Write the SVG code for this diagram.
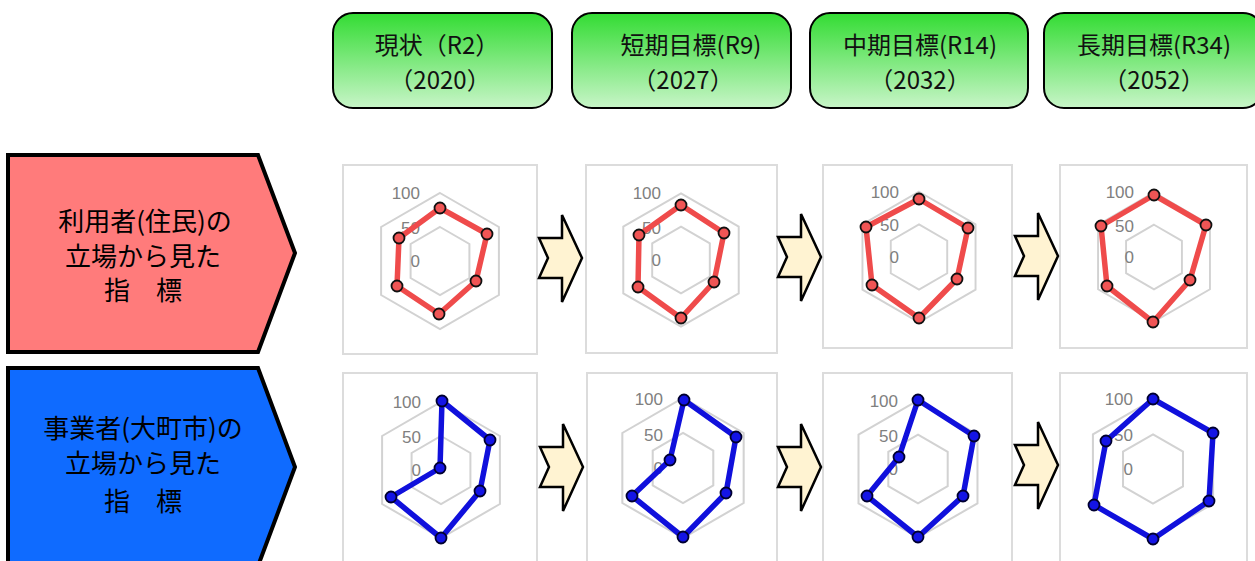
<svg xmlns="http://www.w3.org/2000/svg" xmlns:xlink="http://www.w3.org/1999/xlink" width="1255" height="561" viewBox="0 0 1255 561">
<defs>
<linearGradient id="gHead" x1="0" y1="0" x2="0" y2="1">
<stop offset="0" stop-color="#33dc33"/>
<stop offset="1" stop-color="#c8f5c8"/>
</linearGradient>
<polygon id="hexOut" points="0,-68 58.9,-34 58.9,34 0,68 -58.9,34 -58.9,-34"/>
<polygon id="hexIn" points="0,-34 29.4,-17 29.4,17 0,34 -29.4,17 -29.4,-17"/>
<path id="chev" d="M23,0 L43,43 L23,87 L23,63 L0,63 L9,43 L0,23 L23,23 Z"/>
</defs>
<style>
.head rect{fill:url(#gHead);stroke:#000;stroke-width:2}
.ht{font-family:"Noto Sans CJK JP","Noto Sans",sans-serif;font-size:24px;fill:#111;text-anchor:middle}
.lt{font-family:"Noto Sans CJK JP","Noto Sans",sans-serif;font-size:26px;fill:#000;text-anchor:middle}
.pent{stroke:#000;stroke-width:4;stroke-linejoin:miter}
.box{fill:#fff;stroke:#dcdcdc;stroke-width:2}
.grid use{fill:none;stroke:#d2d2d2;stroke-width:2;vector-effect:non-scaling-stroke}
.ax{font-family:"Liberation Sans",Arial,sans-serif;font-size:17px;fill:#808080;text-anchor:end}
.red polygon{fill:none;stroke:#ef4b4b;stroke-width:5.5;stroke-linejoin:round}
.red circle{fill:#f05555;stroke:#111;stroke-width:1.8}
.blue polygon{fill:none;stroke:#1010dc;stroke-width:5.5;stroke-linejoin:round}
.blue circle{fill:#1414e6;stroke:#000030;stroke-width:1.8}
.chev use{fill:#fff3d2;stroke:#000;stroke-width:2.5;stroke-linejoin:miter}
</style>

<g id="header-r2" class="head">
<rect x="333" y="13" width="219" height="95" rx="20"/>
<text class="ht" x="437" y="54">現状（R2）</text>
<text class="ht" x="440" y="89">（2020）</text>
</g>
<g id="header-r9" class="head">
<rect x="572" y="13" width="219" height="95" rx="20"/>
<text class="ht" x="691" y="54">短期目標(R9)</text>
<text class="ht" x="683" y="89">（2027）</text>
</g>
<g id="header-r14" class="head">
<rect x="810" y="13" width="218" height="95" rx="20"/>
<text class="ht" x="920" y="54">中期目標(R14)</text>
<text class="ht" x="920" y="89">（2032）</text>
</g>
<g id="header-r34" class="head">
<rect x="1044" y="13" width="219" height="95" rx="20"/>
<text class="ht" x="1154" y="54">長期目標(R34)</text>
<text class="ht" x="1154" y="89">（2052）</text>
</g>

<g id="label-residents">
<polygon class="pent" fill="#ff7b7b" points="8,155 258,155 295,253 258,352 8,352"/>
<text class="lt" x="145" y="231">利用者(住民)の</text>
<text class="lt" x="143" y="266">立場から見た</text>
<text class="lt" x="143" y="300">指　標</text>
</g>
<g id="label-business">
<polygon class="pent" fill="#0f6bff" points="8,368 258,368 295,467 258,566 8,566"/>
<text class="lt" x="143" y="438">事業者(大町市)の</text>
<text class="lt" x="143" y="473">立場から見た</text>
<text class="lt" x="143" y="511">指　標</text>
</g>

<g id="chart-r2-residents">
<rect class="box" x="343" y="165" width="194" height="189"/>
<g class="grid" transform="translate(440,261)"><use xlink:href="#hexOut"/><use xlink:href="#hexIn"/></g>
<text class="ax" x="420" y="199">100</text><text class="ax" x="420" y="234">50</text><text class="ax" x="420" y="267">0</text>
<g class="red"><polygon points="440,208 487,234 476,281 439,314 397,286 399,238"/>
<circle cx="440" cy="208" r="5.5"/><circle cx="487" cy="234" r="5.5"/><circle cx="476" cy="281" r="5.5"/><circle cx="439" cy="314" r="5.5"/><circle cx="397" cy="286" r="5.5"/><circle cx="399" cy="238" r="5.5"/></g>
</g>
<g id="chart-r9-residents">
<rect class="box" x="586" y="165" width="191" height="188"/>
<g class="grid" transform="translate(681,260) scale(0.98)"><use xlink:href="#hexOut"/><use xlink:href="#hexIn"/></g>
<text class="ax" x="661" y="199">100</text><text class="ax" x="661" y="234">50</text><text class="ax" x="661" y="266">0</text>
<g class="red"><polygon points="681,205 724,233 714,282 681,318 638,287 639,235"/>
<circle cx="681" cy="205" r="5.5"/><circle cx="724" cy="233" r="5.5"/><circle cx="714" cy="282" r="5.5"/><circle cx="681" cy="318" r="5.5"/><circle cx="638" cy="287" r="5.5"/><circle cx="639" cy="235" r="5.5"/></g>
</g>
<g id="chart-r14-residents">
<rect class="box" x="823" y="165" width="189" height="183"/>
<g class="grid" transform="translate(919,257) scale(0.96)"><use xlink:href="#hexOut"/><use xlink:href="#hexIn"/></g>
<text class="ax" x="899" y="198">100</text><text class="ax" x="899" y="231">50</text><text class="ax" x="899" y="263">0</text>
<g class="red"><polygon points="919,199 968,228 957,279 919,318 872,285 866,227"/>
<circle cx="919" cy="199" r="5.5"/><circle cx="968" cy="228" r="5.5"/><circle cx="957" cy="279" r="5.5"/><circle cx="919" cy="318" r="5.5"/><circle cx="872" cy="285" r="5.5"/><circle cx="866" cy="227" r="5.5"/></g>
</g>
<g id="chart-r34-residents">
<rect class="box" x="1060" y="165" width="187" height="183"/>
<g class="grid" transform="translate(1154,257) scale(0.95)"><use xlink:href="#hexOut"/><use xlink:href="#hexIn"/></g>
<text class="ax" x="1134" y="198">100</text><text class="ax" x="1134" y="232">50</text><text class="ax" x="1134" y="263">0</text>
<g class="red"><polygon points="1154,195 1206,225 1190,280 1153,322 1107,286 1101,226"/>
<circle cx="1154" cy="195" r="5.5"/><circle cx="1206" cy="225" r="5.5"/><circle cx="1190" cy="280" r="5.5"/><circle cx="1153" cy="322" r="5.5"/><circle cx="1107" cy="286" r="5.5"/><circle cx="1101" cy="226" r="5.5"/></g>
</g>

<g id="chart-r2-business">
<rect class="box" x="343" y="373" width="194" height="200"/>
<g class="grid" transform="translate(441,470)"><use xlink:href="#hexOut"/><use xlink:href="#hexIn"/></g>
<text class="ax" x="421" y="408">100</text><text class="ax" x="421" y="443">50</text><text class="ax" x="421" y="476">0</text>
<g class="blue"><polygon points="442,401 490,440 480,491 441,538 391,497 440,468"/>
<circle cx="442" cy="401" r="5.5"/><circle cx="490" cy="440" r="5.5"/><circle cx="480" cy="491" r="5.5"/><circle cx="441" cy="538" r="5.5"/><circle cx="391" cy="497" r="5.5"/><circle cx="440" cy="468" r="5.5"/></g>
</g>
<g id="chart-r9-business">
<rect class="box" x="587" y="373" width="190" height="200"/>
<g class="grid" transform="translate(683,468) scale(1.03)"><use xlink:href="#hexOut"/><use xlink:href="#hexIn"/></g>
<text class="ax" x="663" y="405">100</text><text class="ax" x="663" y="441">50</text><text class="ax" x="663" y="474">0</text>
<g class="blue"><polygon points="684,400 736,437 726,493 683,537 632,496 670,460"/>
<circle cx="684" cy="400" r="5.5"/><circle cx="736" cy="437" r="5.5"/><circle cx="726" cy="493" r="5.5"/><circle cx="683" cy="537" r="5.5"/><circle cx="632" cy="496" r="5.5"/><circle cx="670" cy="460" r="5.5"/></g>
</g>
<g id="chart-r14-business">
<rect class="box" x="823" y="373" width="189" height="200"/>
<g class="grid" transform="translate(918,469) scale(1.01)"><use xlink:href="#hexOut"/><use xlink:href="#hexIn"/></g>
<text class="ax" x="898" y="407">100</text><text class="ax" x="898" y="442">50</text><text class="ax" x="898" y="475">0</text>
<g class="blue"><polygon points="918,400 974,436 963,496 918,537 867,496 899,457"/>
<circle cx="918" cy="400" r="5.5"/><circle cx="974" cy="436" r="5.5"/><circle cx="963" cy="496" r="5.5"/><circle cx="918" cy="537" r="5.5"/><circle cx="867" cy="496" r="5.5"/><circle cx="899" cy="457" r="5.5"/></g>
</g>
<g id="chart-r34-business">
<rect class="box" x="1060" y="373" width="187" height="200"/>
<g class="grid" transform="translate(1153,469) scale(1.02)"><use xlink:href="#hexOut"/><use xlink:href="#hexIn"/></g>
<text class="ax" x="1133" y="405">100</text><text class="ax" x="1133" y="441">50</text><text class="ax" x="1133" y="475">0</text>
<g class="blue"><polygon points="1153,399 1213,433 1209,501 1153,539 1094,505 1106,441"/>
<circle cx="1153" cy="399" r="5.5"/><circle cx="1213" cy="433" r="5.5"/><circle cx="1209" cy="501" r="5.5"/><circle cx="1153" cy="539" r="5.5"/><circle cx="1094" cy="505" r="5.5"/><circle cx="1106" cy="441" r="5.5"/></g>
</g>

<g id="connectors" class="chev">
<use xlink:href="#chev" transform="translate(539,215)"/>
<use xlink:href="#chev" transform="translate(778,214)"/>
<use xlink:href="#chev" transform="translate(1015,213)"/>
<use xlink:href="#chev" transform="translate(540,424)"/>
<use xlink:href="#chev" transform="translate(778,424)"/>
<use xlink:href="#chev" transform="translate(1015,422)"/>
</g>
</svg>
